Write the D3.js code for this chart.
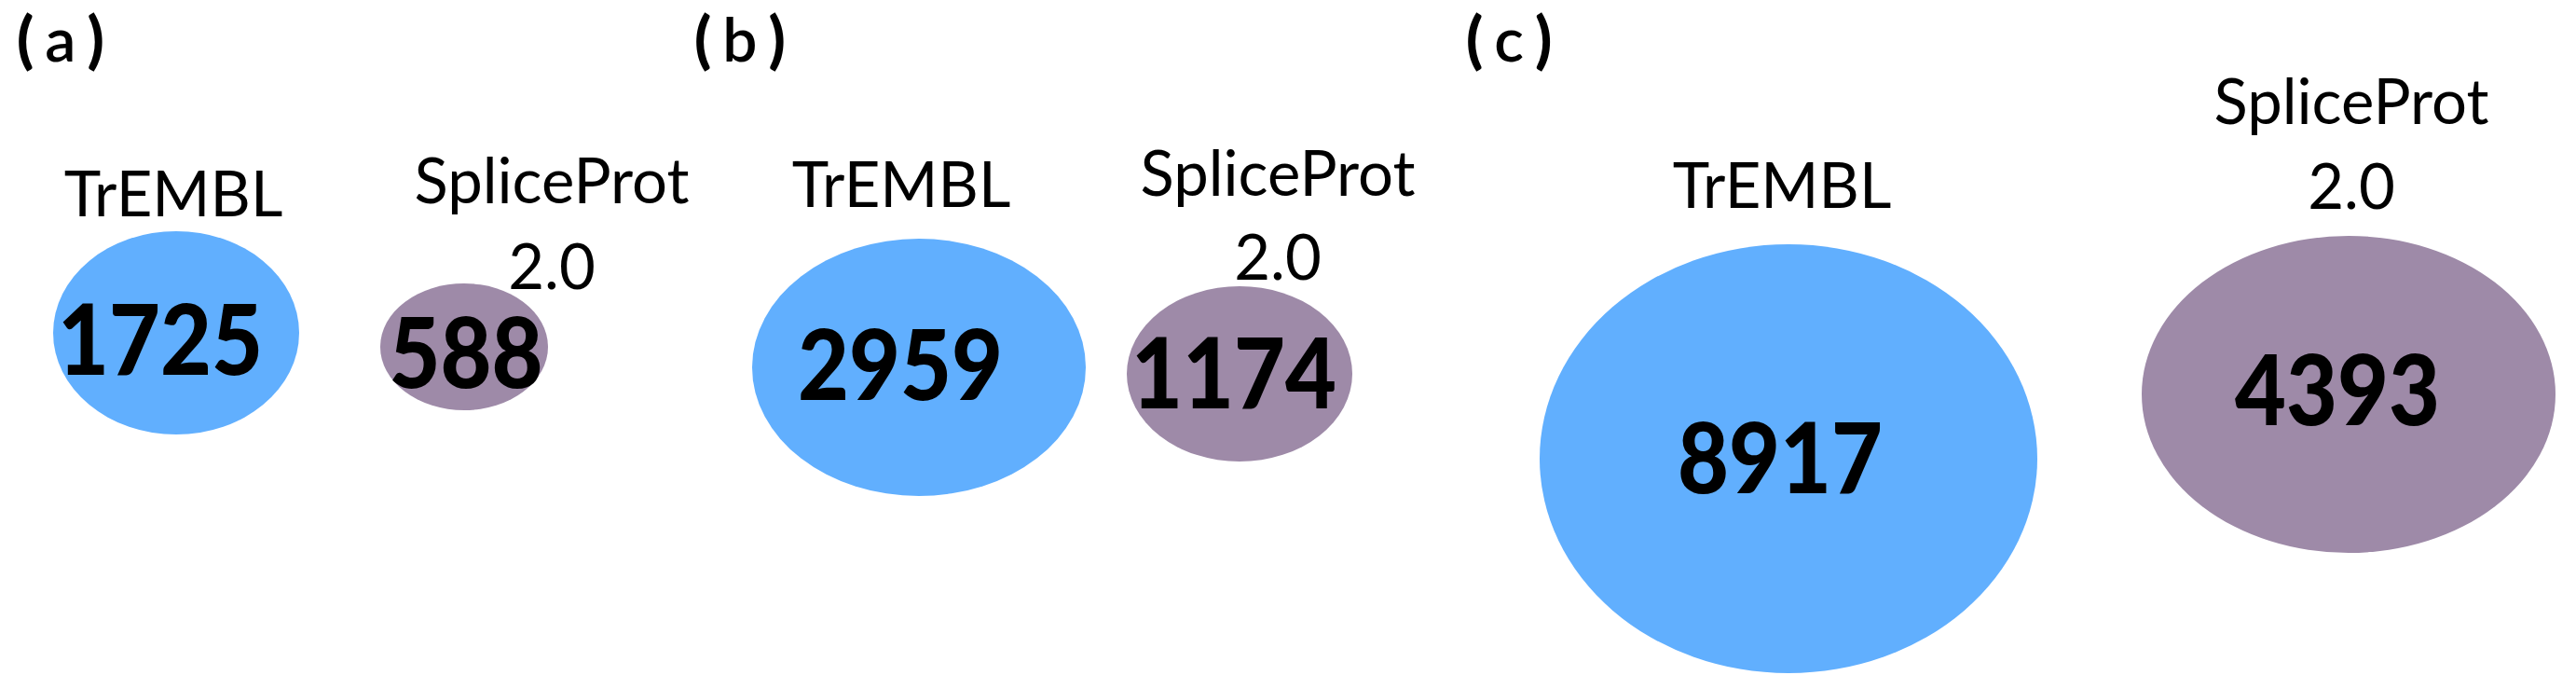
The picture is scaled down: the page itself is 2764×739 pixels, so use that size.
<!DOCTYPE html>
<html>
<head>
<meta charset="utf-8">
<script src="https://cdn.jsdelivr.net/npm/d3@7"></script>
<style>
  html, body { margin: 0; padding: 0; background: #fff; }
  svg { display: block; }
</style>
</head>
<body>
<div id="chart"></div>
<script>
// Data
const panelLabels = ["(a)", "(b)", "(c)"];
const databases = ["TrEMBL", "SpliceProt 2.0"];
const tremblCounts = [1725, 2959, 8917];
const spliceCounts = [588, 1174, 4393];

const width = 2764;
const height = 739;

// Layout of each panel (pixels): panel label, then one ellipse per database
const panelX = d3.scaleOrdinal().domain(panelLabels).range([18, 745, 1573]);

const layout = [
    {   // (a)
        ell: [{cx: 189, cy: 357, rx: 132, ry: 109}, {cx: 498, cy: 372, rx: 90, ry: 68}],
        num: [{x: 172, y: 361}, {x: 500, y: 375}],
        name: [{x: 186, y: 232}, {x: 592, y: 218, y2: 310}]
    },
    {   // (b)
        ell: [{cx: 986, cy: 394, rx: 179, ry: 138}, {cx: 1330, cy: 401, rx: 121, ry: 94}],
        num: [{x: 966, y: 388}, {x: 1324, y: 397}],
        name: [{x: 967, y: 222}, {x: 1371, y: 210, y2: 300}]
    },
    {   // (c)
        ell: [{cx: 1919, cy: 492, rx: 267, ry: 230}, {cx: 2520, cy: 423, rx: 222, ry: 170}],
        num: [{x: 1910, y: 488}, {x: 2508, y: 415}],
        name: [{x: 1912, y: 223}, {x: 2523, y: 133, y2: 224}]
    }
];

const color = d3.scaleOrdinal().domain(databases).range(["#61affe", "#9e8aa8"]);

const rows = panelLabels.map((p, i) => ({
    panel: p,
    counts: [tremblCounts[i], spliceCounts[i]],
    geo: layout[i]
}));

const svg = d3.select("#chart")
    .append("svg")
    .attr("width", width)
    .attr("height", height);

const panels = svg.selectAll("g.panel")
    .data(rows)
    .join("g")
    .attr("class", "panel");

// Ellipses
panels.selectAll("ellipse")
    .data(d => d.geo.ell.map((e, j) => ({...e, db: databases[j]})))
    .join("ellipse")
    .attr("cx", d => d.cx)
    .attr("cy", d => d.cy)
    .attr("rx", d => d.rx)
    .attr("ry", d => d.ry)
    .attr("fill", d => color(d.db));

// Panel labels: heavy parentheses, lighter letter
const plabel = panels.append("text")
    .attr("x", d => panelX(d.panel))
    .attr("y", 66)
    .style("font-family", "Lato, 'Open Sans', sans-serif")
    .style("font-size", "66px")
    .attr("fill", "#000");
plabel.append("tspan").style("font-weight", 900).text("(");
plabel.append("tspan").attr("dx", 12).style("font-weight", 600).text(d => d.panel.slice(1, -1));
plabel.append("tspan").attr("dx", 12).style("font-weight", 900).text(")");

// Database names
panels.each(function(d) {
    const g = d3.select(this);
    const n = d.geo.name;
    const label = (x, y, t) => g.append("text")
        .attr("x", x)
        .attr("y", y)
        .attr("text-anchor", "middle")
        .style("font-family", "Lato, sans-serif")
        .style("font-size", "67px")
        .text(t);

    label(n[0].x, n[0].y, databases[0]);
    const [first, second] = databases[1].split(" ");
    label(n[1].x, n[1].y, first);
    label(n[1].x, n[1].y2, second);
});

// Counts inside the ellipses
panels.selectAll("text.count")
    .data(d => d.counts.map((c, j) => ({c, pos: d.geo.num[j]})))
    .join("text")
    .attr("class", "count")
    .attr("x", d => d.pos.x)
    .attr("y", d => d.pos.y)
    .attr("text-anchor", "middle")
    .attr("dominant-baseline", "central")
    .attr("textLength", d => String(d.c).length * 55)
    .attr("lengthAdjust", "spacingAndGlyphs")
    .style("font-family", "Lato, sans-serif")
    .style("font-weight", 900)
    .style("font-size", "104px")
    .text(d => d.c);
</script>
</body>
</html>
